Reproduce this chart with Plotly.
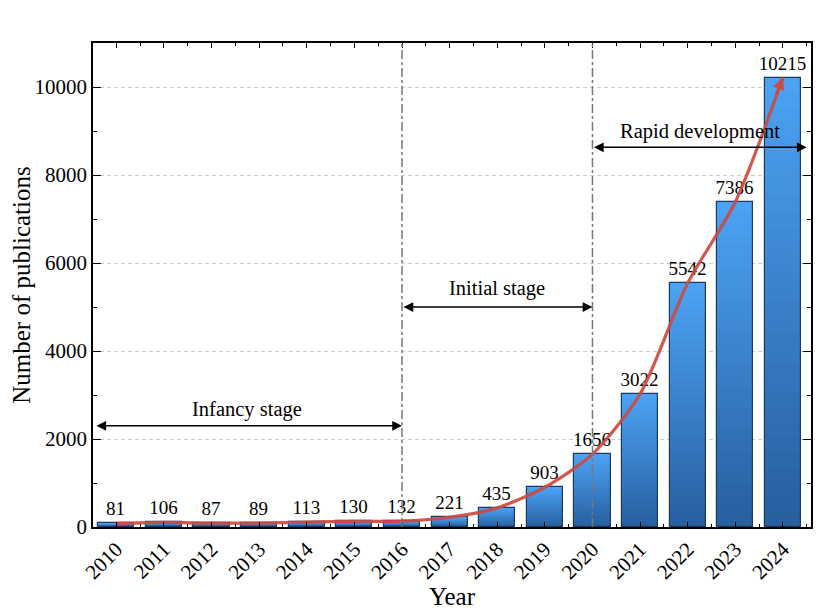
import plotly.graph_objects as go

# publications per year
years = [2010, 2011, 2012, 2013, 2014, 2015, 2016, 2017,
         2018, 2019, 2020, 2021, 2022, 2023, 2024]
counts = [81, 106, 87, 89, 113, 130, 132, 221,
          435, 903, 1656, 3022, 5542, 7386, 10215]
year_labels = [str(y) for y in years]

# stage boundaries
stage_breaks = [2016, 2020]

FONT = "Liberation Serif"
TOP_RGB = (76, 162, 244)
BOTTOM_RGB = (40, 96, 160)
N_LAYERS = 30
BAR_W = 0.76

fig = go.Figure()

# fake a vertical gradient by stacking shrinking bars on top of each other
for k in range(N_LAYERS):
    t = k / (N_LAYERS - 1)
    r, g, b = [int(a + (c - a) * t) for a, c in zip(TOP_RGB, BOTTOM_RGB)]
    frac = (N_LAYERS - k) / N_LAYERS
    fig.add_trace(go.Bar(
        x=years,
        y=[v * frac for v in counts],
        width=BAR_W,
        marker=dict(color=f"rgb({r},{g},{b})", line=dict(width=0)),
        hoverinfo="skip",
        showlegend=False,
    ))

# outline + value labels
fig.add_trace(go.Bar(
    x=years,
    y=counts,
    width=BAR_W,
    marker=dict(color="rgba(0,0,0,0)", line=dict(color="#1c3a5c", width=1.2)),
    text=[str(v) for v in counts],
    textposition="outside",
    constraintext="none",
    textfont=dict(family=FONT, size=19, color="black"),
    cliponaxis=False,
    showlegend=False,
))

# trend curve
fig.add_trace(go.Scatter(
    x=years,
    y=counts,
    mode="lines",
    line=dict(color="rgba(204,74,64,0.92)", width=3.2, shape="spline", smoothing=0.75),
    hoverinfo="skip",
    showlegend=False,
))

# arrow head on the curve end
slope = counts[-1] - counts[-2]
fig.add_annotation(
    x=years[-1], y=counts[-1],
    ax=years[-1] - 0.15, ay=counts[-1] - 0.15 * slope,
    xref="x", yref="y", axref="x", ayref="y",
    text="", showarrow=True, arrowhead=2, arrowsize=0.8,
    arrowwidth=3, arrowcolor="rgba(204,74,64,0.95)",
)

for xb in stage_breaks:
    fig.add_vline(x=xb, line=dict(color="#777777", width=1.5, dash="dashdot"))

# stage arrows: (x0, x1, y_arrow, label, x_label, y_label)
stages = [
    (2009.55, 2016, 2300, "Infancy stage", 2012.75, 2680),
    (2016, 2020, 5000, "Initial stage", 2018.0, 5430),
    (2020, 2024.5, 8630, "Rapid development", 2022.25, 8980),
]
for x0, x1, ya, label, xl, yl in stages:
    fig.add_annotation(
        x=x1, y=ya, ax=x0, ay=ya,
        xref="x", yref="y", axref="x", ayref="y",
        text="", showarrow=True, arrowhead=2, arrowside="end+start",
        arrowsize=1.3, arrowwidth=1.5, arrowcolor="black",
    )
    fig.add_annotation(
        x=xl, y=yl, xref="x", yref="y", text=label, showarrow=False,
        font=dict(family=FONT, size=20.5, color="black"),
    )

# page body adds an 8px offset, so the figure is a bit smaller than the window
fig.update_layout(
    width=819, height=602,
    margin=dict(l=85, r=16, t=35, b=83),
    barmode="overlay",
    bargap=0,
    plot_bgcolor="white",
    paper_bgcolor="white",
    font=dict(family=FONT, color="black"),
    showlegend=False,
)

fig.update_xaxes(
    range=[2009.51, 2024.59],
    automargin=False,
    tickvals=years, ticktext=year_labels, tickangle=-45,
    tickfont=dict(family=FONT, size=21),
    ticks="inside", ticklen=5, tickcolor="black",
    minor=dict(ticks="inside", ticklen=3, tick0=2009.5, dtick=1, tickcolor="black"),
    showline=True, linecolor="black", linewidth=1.5, mirror="ticks",
    showgrid=False, zeroline=False,
    title=dict(text="Year", font=dict(family=FONT, size=25)),
)
fig.update_yaxes(
    range=[0, 11000],
    automargin=False,
    tickvals=[0, 2000, 4000, 6000, 8000, 10000],
    ticktext=["0", "2000", "4000", "6000", "8000", "10000"],
    tickfont=dict(family=FONT, size=21),
    ticks="inside", ticklen=8, tickcolor="black",
    minor=dict(ticks="inside", ticklen=4, dtick=1000, tickcolor="black", showgrid=False),
    showline=True, linecolor="black", linewidth=1.5, mirror="ticks",
    showgrid=True, gridcolor="#cccccc", griddash="4px,3px", gridwidth=1,
    zeroline=False,
    title=dict(text="Number of publications", font=dict(family=FONT, size=25)),
)

fig.write_html("out.html")
